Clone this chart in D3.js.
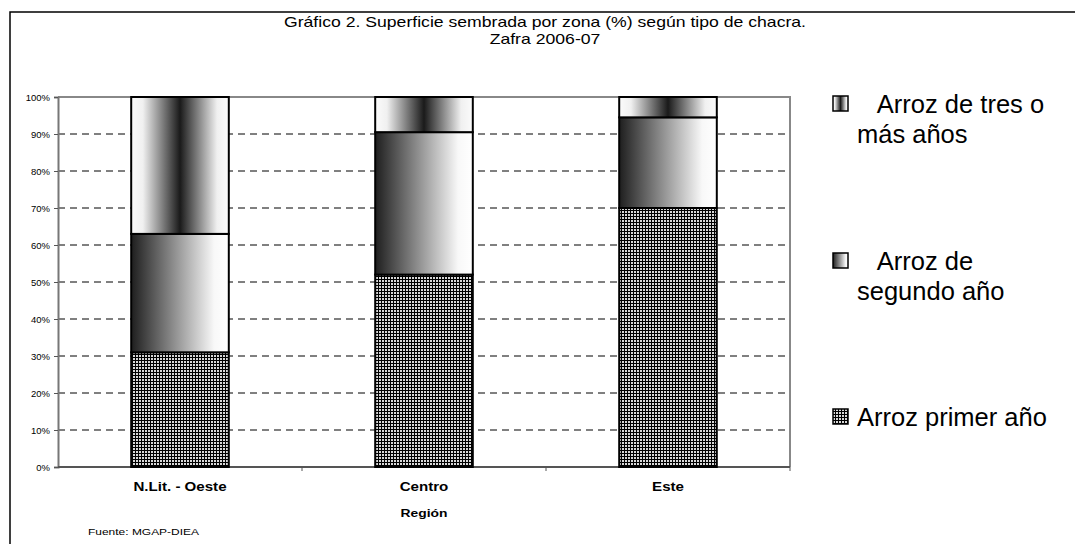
<!DOCTYPE html>
<html>
<head>
<meta charset="utf-8">
<script src="https://cdn.jsdelivr.net/npm/d3@7"></script>
<style>
  body { margin: 0; background: #fff; }
  text { font-family: "Liberation Sans", Arial, sans-serif; fill: #000; }
</style>
</head>
<body>
<script>
// regions and shares (%) of sown area by field type
var regions = ["N.Lit. - Oeste", "Centro", "Este"];
var primerAnio = [31, 52, 70];
var segundoAnio = [32, 38.5, 24.5];
var tresOMas = [37, 9.5, 5.5];
var seriesKeys = ["primer", "segundo", "tres"];
var legendLabels = [["   Arroz de tres o", "más años"], ["   Arroz de", "segundo año"], ["Arroz primer año"]];
var yTicks = [0, 10, 20, 30, 40, 50, 60, 70, 80, 90, 100];
var titleLines = ["Gráfico 2. Superficie sembrada por zona (%) según tipo de chacra.", "Zafra 2006-07"];

var data = regions.map(function(r, i) {
  return { region: r, primer: primerAnio[i], segundo: segundoAnio[i], tres: tresOMas[i] };
});

var W = 1075, H = 544;
var margin = {top: 97, right: 285, bottom: 77, left: 58}
  , width = W - margin.left - margin.right
  , height = H - margin.top - margin.bottom;

// the original's small texts are a bit wider than plain Arial
var stretch = "scale(1.26,1)";

var svg = d3.select("body").append("svg")
    .attr("width", W)
    .attr("height", H);

var defs = svg.append("defs");

// fills: checked pattern, left-dark gradient, center-dark gradient
var pat = defs.append("pattern")
    .attr("id", "p-primer")
    .attr("patternUnits", "userSpaceOnUse")
    .attr("width", 3).attr("height", 3);
pat.append("rect").attr("width", 3).attr("height", 3).attr("fill", "#000");
pat.append("rect").attr("width", 2).attr("height", 2).attr("fill", "#d8d8d8");

var gSeg = defs.append("linearGradient").attr("id", "g-segundo");
gSeg.append("stop").attr("offset", "0%").attr("stop-color", "#1e1e1e");
gSeg.append("stop").attr("offset", "85%").attr("stop-color", "#f8f8f8");
gSeg.append("stop").attr("offset", "100%").attr("stop-color", "#ffffff");

var gTres = defs.append("linearGradient").attr("id", "g-tres");
gTres.append("stop").attr("offset", "0%").attr("stop-color", "#fbfbfb");
gTres.append("stop").attr("offset", "12%").attr("stop-color", "#f0f0f0");
gTres.append("stop").attr("offset", "50%").attr("stop-color", "#1a1a1a");
gTres.append("stop").attr("offset", "88%").attr("stop-color", "#f0f0f0");
gTres.append("stop").attr("offset", "100%").attr("stop-color", "#fbfbfb");

var fills = { primer: "url(#p-primer)", segundo: "url(#g-segundo)", tres: "url(#g-tres)" };

// outer frame (top and left)
svg.append("path")
    .attr("d", "M10," + H + "V12H" + W)
    .attr("fill", "none")
    .attr("stroke", "#000")
    .attr("stroke-width", 1.5);

// title
svg.append("g").selectAll("text")
  .data(titleLines)
  .enter().append("text")
    .attr("transform", function(d, i) { return "translate(545," + (27 + i * 17) + ") " + stretch; })
    .attr("text-anchor", "middle")
    .style("font-size", "14px")
    .text(function(d) { return d; });

var x = d3.scaleBand()
    .domain(regions)
    .range([0, width])
    .paddingInner(0.6)
    .paddingOuter(0.3);

var y = d3.scaleLinear()
    .domain([0, 100])
    .range([height, 0]);

var main = svg.append("g")
    .attr("transform", "translate(" + margin.left + "," + margin.top + ")");

// dashed grid
main.append("g").selectAll("line")
  .data(yTicks.filter(function(t) { return t > 0 && t < 100; }))
  .enter().append("line")
    .attr("x1", 0).attr("x2", width)
    .attr("y1", function(d) { return y(d); })
    .attr("y2", function(d) { return y(d); })
    .attr("stroke", "#000")
    .attr("stroke-width", 1)
    .attr("stroke-dasharray", "7,5");

// plot frame top/right
main.append("path")
    .attr("d", "M0,0H" + width + "V" + height)
    .attr("fill", "none")
    .attr("stroke", "#888")
    .attr("stroke-width", 2);

// y axis
var yAxis = d3.axisLeft(y)
    .tickValues(yTicks)
    .tickSize(4)
    .tickPadding(4)
    .tickFormat(function(d) { return d + "%"; });

var ya = main.append("g").call(yAxis);
ya.select(".domain").attr("stroke", "#777").attr("stroke-width", 2);
ya.selectAll(".tick line").attr("stroke", "#555");
ya.selectAll("text").style("font-size", "9.5px").style("font-family", "Liberation Sans, Arial, sans-serif");

// x axis: ticks at category boundaries
var boundaries = regions.map(function(r) { return x(r) - x.step() * x.paddingInner() / 2 + x.step(); });
var xb = main.append("g").attr("transform", "translate(0," + height + ")");
xb.append("line")
    .attr("x1", 0).attr("x2", width)
    .attr("stroke", "#555").attr("stroke-width", 2);
xb.selectAll(".bt")
  .data(boundaries)
  .enter().append("line")
    .attr("class", "bt")
    .attr("x1", function(d) { return d; })
    .attr("x2", function(d) { return d; })
    .attr("y1", 0).attr("y2", 4)
    .attr("stroke", "#555");

xb.selectAll(".cat")
  .data(regions)
  .enter().append("text")
    .attr("class", "cat")
    .attr("transform", function(d) { return "translate(" + (x(d) + x.bandwidth() / 2) + ",24) " + stretch; })
    .attr("text-anchor", "middle")
    .style("font-size", "12px")
    .style("font-weight", "bold")
    .text(function(d) { return d; });

xb.append("text")
    .attr("transform", "translate(" + (width / 2) + ",50) " + stretch)
    .attr("text-anchor", "middle")
    .style("font-size", "11px")
    .style("font-weight", "bold")
    .text("Región");

// stacked bars
var stack = d3.stack().keys(seriesKeys);
var layers = stack(data);

main.append("g").selectAll("g")
  .data(layers)
  .enter().append("g")
    .attr("fill", function(d) { return fills[d.key]; })
  .selectAll("rect")
  .data(function(d) { return d; })
  .enter().append("rect")
    .attr("x", function(d) { return x(d.data.region); })
    .attr("width", x.bandwidth())
    .attr("y", function(d) { return y(d[1]); })
    .attr("height", function(d) { return y(d[0]) - y(d[1]); })
    .attr("stroke", "#000")
    .attr("stroke-width", 2);

// source
svg.append("text")
    .attr("transform", "translate(88,535) " + stretch)
    .style("font-size", "9.5px")
    .text("Fuente: MGAP-DIEA");

// legend (top to bottom: tres, segundo, primer)
var legendKeys = ["tres", "segundo", "primer"];
var legendY = [96, 253, 409];
var legend = svg.append("g").selectAll("g")
  .data(legendKeys)
  .enter().append("g")
    .attr("transform", function(d, i) { return "translate(833," + legendY[i] + ")"; });

legend.append("rect")
    .attr("width", 15).attr("height", 15)
    .attr("fill", function(d) { return fills[d]; })
    .attr("stroke", "#000")
    .attr("stroke-width", 1.5);

legend.each(function(d, i) {
  d3.select(this).selectAll("text")
    .data(legendLabels[i])
    .enter().append("text")
      .attr("x", 24)
      .attr("y", function(t, j) { return 17 + j * 30; })
      .style("font-size", "25.5px")
      .style("white-space", "pre")
      .attr("xml:space", "preserve")
      .text(function(t) { return t; });
});
</script>
</body>
</html>
